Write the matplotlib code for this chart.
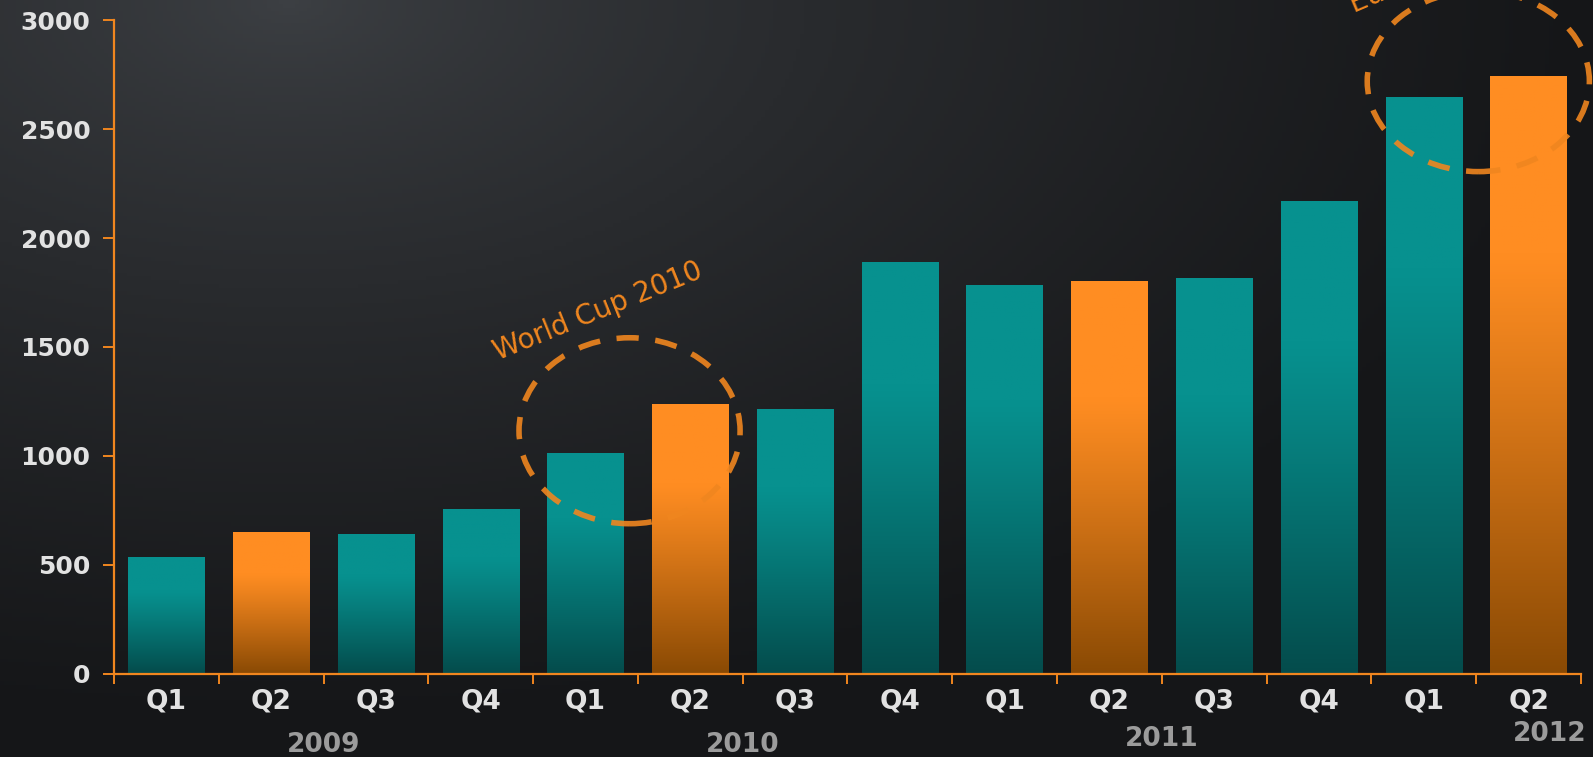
import numpy as np
import matplotlib
matplotlib.use('Agg')
import matplotlib.pyplot as plt
from matplotlib.patches import Ellipse
from matplotlib.colors import to_rgb

# data
quarters = ['Q1', 'Q2', 'Q3', 'Q4', 'Q1', 'Q2', 'Q3', 'Q4',
            'Q1', 'Q2', 'Q3', 'Q4', 'Q1', 'Q2']
values = [537, 649, 639, 756, 1013, 1237, 1213, 1890,
          1783, 1801, 1815, 2170, 2646, 2744]
highlight = [False, True, False, False, False, True, False, False,
             False, True, False, False, False, True]
years = ['2009', '2010', '2011', '2012']
year_pos = [1.5, 5.5, 9.5, 13.2]
yticks = [0, 500, 1000, 1500, 2000, 2500, 3000]

teal_top, teal_bot = '#07918f', '#044c4c'
orange_top, orange_bot = '#ff8d22', '#8a4a04'
accent = '#f0861f'

W, H = 1593, 757
fig = plt.figure(figsize=(W / 100, H / 100), dpi=100)

# background radial gradient
bg = fig.add_axes([0, 0, 1, 1])
gx, gy = np.meshgrid(np.linspace(0, 1, 400), np.linspace(0, 1, 200))
d = np.sqrt(((gx - 0.18) * 1.4) ** 2 + ((gy - 0.0) * 1.2) ** 2)
t = np.clip(d / 1.15, 0, 1)
c0 = np.array(to_rgb('#3d4044'))
c1 = np.array(to_rgb('#151618'))
img = c0 + (c1 - c0) * t[..., None] ** 0.75
bg.imshow(img, extent=[0, 1, 0, 1], aspect='auto', origin='upper')
bg.axis('off')

ax = fig.add_axes([114 / W, 1 - 673.5 / H, (1581 - 114) / W, (673.5 - 20.3) / H])
ax.patch.set_alpha(0)

x = np.arange(len(values))
bars = ax.bar(x, values, width=0.73, color='none', zorder=2)


def grad(top, bot, n=200):
    a = np.array(to_rgb(top))
    b = np.array(to_rgb(bot))
    s = np.linspace(0, 1, n)
    s = np.clip((s - 0.3) / 0.7, 0, 1) ** 1.1
    g = a + (b - a) * s[:, None]
    return g[:, None, :]


for b, hl in zip(bars, highlight):
    x0 = b.get_x()
    x1 = x0 + b.get_width()
    h = b.get_height()
    g = grad(orange_top, orange_bot) if hl else grad(teal_top, teal_bot)
    im = ax.imshow(g, extent=[x0, x1, 0, h], aspect='auto', origin='upper', zorder=2)
    im.set_clip_path(b)

ax.set_xlim(-0.5, 13.5)
ax.set_ylim(0, 3000)

for s in ['top', 'right']:
    ax.spines[s].set_visible(False)
for s in ['left', 'bottom']:
    ax.spines[s].set_color(accent)
    ax.spines[s].set_linewidth(1.6)

ax.set_yticks(yticks)
ax.set_yticklabels([str(v) for v in yticks], fontsize=18, fontweight='bold', color='#e2e2e2')
ax.tick_params(axis='y', colors=accent, length=8, width=1.4, pad=9, labelcolor='#e2e2e2')

ax.set_xticks(np.arange(-0.5, 14, 1))
ax.set_xticklabels([])
ax.tick_params(axis='x', colors=accent, length=7, width=1.4)
ax.set_xticks(x, minor=True)
ax.set_xticklabels(quarters, minor=True, fontsize=19, fontweight='bold', color='#e2e2e2')
ax.tick_params(axis='x', which='minor', length=0, pad=11, labelcolor='#e2e2e2')

for yr, p in zip(years, year_pos):
    yy = -330 if yr in ('2009', '2010') else (-300 if yr == '2011' else -278)
    ax.text(p, yy, yr, ha='center', va='center', fontsize=19, fontweight='bold',
            color='#9c9c9c', clip_on=False)

# annotations
e1 = Ellipse((4.42, 1115), 2.11, 854, fill=False, ls=(0, (4, 3)), lw=4,
             edgecolor=accent, alpha=0.9, zorder=3)
ax.add_patch(e1)
e2 = Ellipse((12.52, 2720), 2.12, 830, fill=False, ls=(0, (4, 3)), lw=4,
             edgecolor=accent, alpha=0.9, zorder=3, clip_on=False)
ax.add_patch(e2)
ax.text(3.16, 1437, 'World Cup 2010', rotation=22, rotation_mode='anchor',
        ha='left', va='baseline', fontsize=20, color=accent, zorder=4)
ax.text(11.33, 3035, 'Euro 2012', rotation=23, rotation_mode='anchor',
        ha='left', va='baseline', fontsize=20, color=accent, zorder=4, clip_on=False)

fig.savefig('out.png', dpi=100)
